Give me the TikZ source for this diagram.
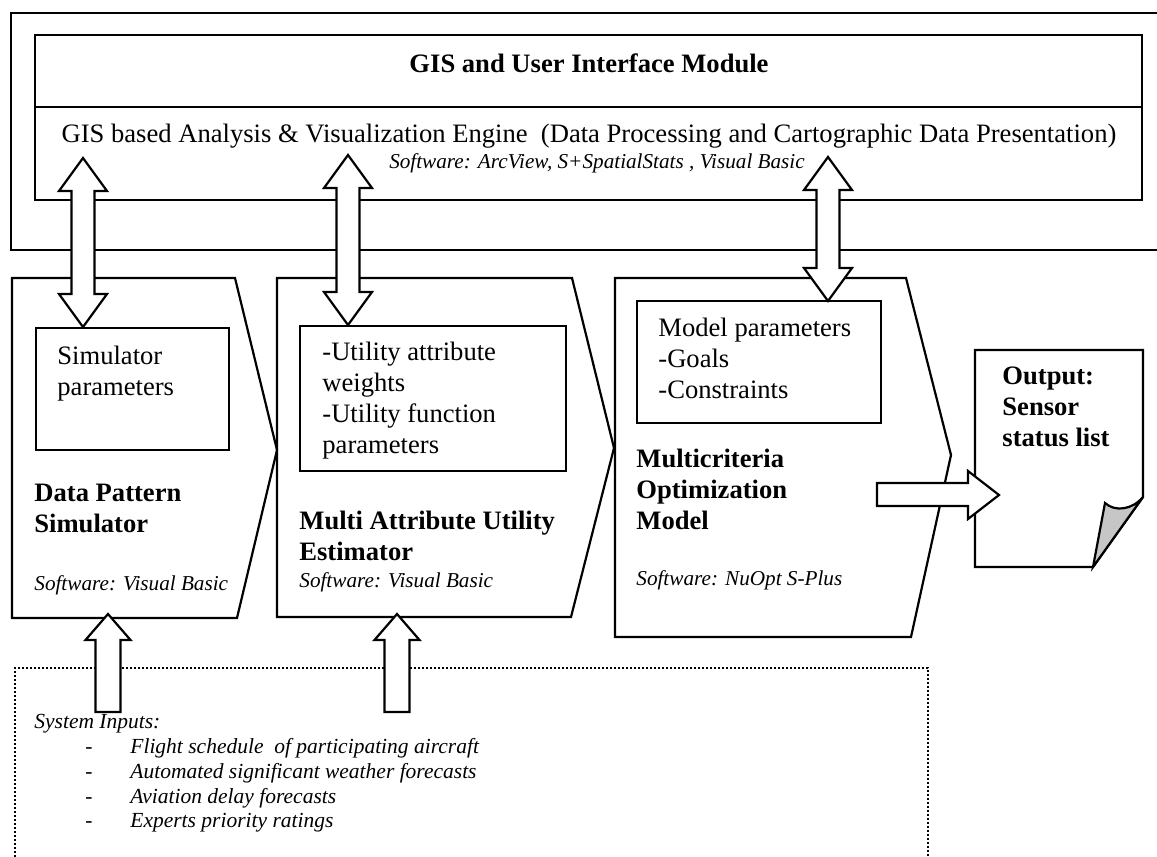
\documentclass[tikz,border=0pt]{standalone}
\usepackage{fontspec}
\setmainfont{Liberation Serif}

% hollow block arrows: x of the axis, top end, bottom end
\newcommand{\dblarrow}[3]{%
  \draw[blockarrow] (#1,#2) -- (#1+24,#2+33) -- (#1+11.5,#2+33) -- (#1+11.5,#3-33)
    -- (#1+24,#3-33) -- (#1,#3) -- (#1-24,#3-33) -- (#1-11.5,#3-33)
    -- (#1-11.5,#2+33) -- (#1-24,#2+33) -- cycle;}
\newcommand{\inarrow}[3]{%
  \draw[blockarrow] (#1,#2) -- (#1+22.5,#2+26) -- (#1+12.5,#2+26) -- (#1+12.5,#3)
    -- (#1-12.5,#3) -- (#1-12.5,#2+26) -- (#1-22.5,#2+26) -- cycle;}

\begin{document}
\begin{tikzpicture}[
        x = 0.5pt,
        y = -0.5pt,
        frame/.style = {draw, line width=1.1pt, line join=miter},
        blockarrow/.style = {draw, fill=white, line width=1.1pt, line join=miter},
        body/.style = {inner sep=0pt, anchor=base west, align=left,
            font=\fontsize{13.3}{15.5}\selectfont},
        title/.style = {body, font=\fontsize{13.3}{15.5}\selectfont\bfseries},
        soft/.style = {inner sep=0pt, anchor=base west,
            font=\fontsize{10.6}{12}\selectfont\itshape},
        inputs/.style = {inner sep=0pt, anchor=base west,
            font=\fontsize{10.75}{12.5}\selectfont\itshape}
    ]
    \useasboundingbox (0,0) rectangle (1157,857);

    % GIS module
    \draw[frame] (1157,13) -- (11,13) -- (11,250) -- (1157,250);
    \draw[frame] (35,35) rectangle (1142,200);
    \draw[frame] (35,107) -- (1142,107);
    \node[title, anchor=base] (gis) at (589,72) {GIS and User Interface Module};
    \node[body, anchor=base] (engine) at (589,142) {GIS based Analysis \& Visualization Engine\ \ (Data Processing and Cartographic Data Presentation)};
    \node[soft, anchor=base] (gissw) at (597,168) {Software: ArcView, S+SpatialStats , Visual Basic};

    % stages (multi-line nodes sit on their last baseline)
    \draw[frame] (12,278) -- (235,278) -- (277,450) -- (237,618) -- (12,618) -- cycle;
    \draw[frame] (277,278) -- (572,278) -- (614,448) -- (571,617) -- (277,617) -- cycle;
    \draw[frame] (615,278) -- (906,278) -- (951,455) -- (911,637) -- (615,637) -- cycle;

    \draw[frame] (36,328) rectangle (229,450);
    \draw[frame] (300,326) rectangle (566,471);
    \draw[frame] (637,301) rectangle (881,423);

    \node[body] (simpar) at (57,395) {Simulator\\parameters};
    \node[body] (utilpar) at (322,453) {-Utility attribute\\weights\\-Utility function\\parameters};
    \node[body] (modpar) at (658,398) {Model parameters\\-Goals\\-Constraints};

    \node[title] (dps) at (34,532) {Data Pattern\\Simulator};
    \node[title] (maue) at (299,560) {Multi Attribute Utility\\Estimator};
    \node[title] (mom) at (636,529) {Multicriteria\\Optimization\\Model};
    \node[soft] (dpssw) at (34,590) {Software: Visual Basic};
    \node[soft] (mauesw) at (299,587) {Software: Visual Basic};
    \node[soft] (momsw) at (636,585) {Software: NuOpt S-Plus};

    % output sheet
    \draw[frame] (975,350) -- (1143,350) -- (1143,497) -- (1093,567) -- (975,567) -- cycle;
    \filldraw[frame, fill=gray!45] (1143,497) -- (1093,567) -- (1105,503)
        .. controls (1115,512) and (1132,510) .. (1143,497) -- cycle;
    \node[title] (out) at (1002,446) {Output:\\Sensor\\status list};

    % system inputs
    \draw[densely dotted, line width=1pt] (15,857) -- (15,668) -- (928,668) -- (928,857);
    \node[inputs] (sysin) at (34,728) {System Inputs:};
    \node[inputs] (dash1) at (85,753) {-};
    \node[inputs] (dash2) at (85,778) {-};
    \node[inputs] (dash3) at (85,803) {-};
    \node[inputs] (dash4) at (85,827) {-};
    \node[inputs] (in1) at (130,753) {Flight schedule\ \ of participating aircraft};
    \node[inputs] (in2) at (130,778) {Automated significant weather forecasts};
    \node[inputs] (in3) at (130,803) {Aviation delay forecasts};
    \node[inputs] (in4) at (130,827) {Experts priority ratings};

    % arrows
    \dblarrow{83}{158}{327}
    \dblarrow{348}{155}{325}
    \dblarrow{828}{157}{301}
    \inarrow{108}{614}{712}
    \inarrow{397}{614}{712}
    \draw[blockarrow] (877,483) -- (968,483) -- (968,471) -- (999,495)
        -- (968,519) -- (968,506) -- (877,506) -- cycle;
\end{tikzpicture}
\end{document}
